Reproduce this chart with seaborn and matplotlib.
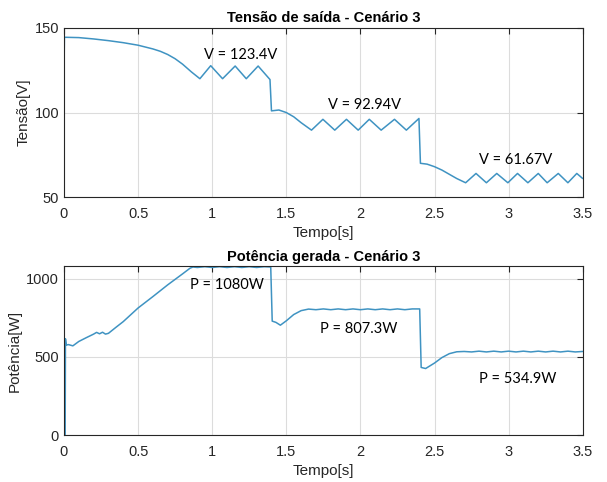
import matplotlib
matplotlib.use("Agg")
import matplotlib.pyplot as plt
import seaborn as sns

# Tensão de saída (V)
t_v = [0.0, 0.003, 0.1, 0.2, 0.3, 0.4, 0.5, 0.6, 0.65, 0.7, 0.75, 0.8,
       0.86, 0.917, 0.99, 1.07, 1.155, 1.23, 1.31, 1.39, 1.40, 1.45, 1.5,
       1.55, 1.6, 1.67, 1.747, 1.827, 1.906, 1.985, 2.06, 2.14, 2.23, 2.31,
       2.395, 2.405, 2.45, 2.5, 2.55, 2.6, 2.65, 2.71, 2.78, 2.85, 2.92,
       2.995, 3.06, 3.13, 3.20, 3.26, 3.335, 3.40, 3.46, 3.5]
v = [123.0, 144.5, 144.3, 143.5, 142.5, 141.3, 139.8, 137.6, 136.2, 134.3,
     131.8, 128.6, 124.0, 120.0, 127.7, 120.0, 127.5, 120.0, 127.5, 119.5,
     101.0, 101.5, 100.0, 97.5, 94.0, 89.6, 96.0, 89.6, 96.0, 89.6, 96.0,
     89.6, 96.0, 89.6, 96.5, 70.0, 69.5, 68.0, 66.0, 63.5, 61.0, 58.5,
     64.0, 58.5, 64.0, 58.5, 64.0, 58.5, 64.0, 58.5, 64.0, 58.5, 64.0,
     61.0]

# Potência gerada (W)
t_p = [0.0, 0.008, 0.010, 0.015, 0.03, 0.06, 0.1, 0.15, 0.2, 0.22, 0.24,
       0.26, 0.28, 0.3, 0.35, 0.4, 0.5, 0.6, 0.7, 0.8, 0.85, 0.87, 0.9,
       0.95, 1.0, 1.05, 1.1, 1.15, 1.2, 1.25, 1.3, 1.35, 1.395, 1.405, 1.43,
       1.46, 1.5, 1.55, 1.6, 1.65, 1.7, 1.75, 1.8, 1.85, 1.9, 1.95, 2.0,
       2.05, 2.1, 2.15, 2.2, 2.25, 2.3, 2.35, 2.40, 2.41, 2.44, 2.5, 2.55,
       2.6, 2.65, 2.7, 2.75, 2.8, 2.85, 2.9, 2.95, 3.0, 3.05, 3.1, 3.15,
       3.2, 3.25, 3.3, 3.35, 3.4, 3.45, 3.5]
p = [0.0, 0.0, 615.0, 575.0, 578.0, 570.0, 598.0, 622.0, 645.0, 656.0,
     647.0, 657.0, 645.0, 650.0, 688.0, 725.0, 812.0, 885.0, 960.0, 1030.0,
     1066.0, 1074.0, 1071.0, 1076.0, 1071.0, 1076.0, 1071.0, 1076.0,
     1071.0, 1076.0, 1071.0, 1076.0, 1074.0, 728.0, 720.0, 702.0, 730.0,
     770.0, 795.0, 805.0, 801.0, 806.0, 801.0, 806.0, 801.0, 806.0, 801.0,
     806.0, 801.0, 806.0, 801.0, 806.0, 801.0, 806.0, 806.0, 432.0, 425.0,
     460.0, 495.0, 520.0, 532.0, 534.0, 531.0, 536.0, 531.0, 536.0, 531.0,
     536.0, 531.0, 536.0, 531.0, 536.0, 531.0, 536.0, 531.0, 536.0, 531.0,
     534.0]

v_labels = ["V = 123.4V", "V = 92.94V", "V = 61.67V"]
v_label_pos = [(1.19, 134.0), (2.03, 104.4), (3.05, 72.0)]
p_labels = ["P = 1080W", "P = 807.3W", "P = 534.9W"]
p_label_pos = [(1.10, 960.0), (1.99, 677.0), (3.06, 360.0)]

sns.set_style("white")
plt.rcParams['font.family'] = ['Liberation Sans', 'DejaVu Sans']

line_color = '#3f93c2'
axis_color = '#262626'

fig = plt.figure(figsize=(6.07, 4.82), dpi=100)
fig.set_facecolor('white')
ax1 = fig.add_axes([0.1054, 0.591, 0.8546, 0.351])
ax2 = fig.add_axes([0.1054, 0.0975, 0.8546, 0.3505])


def style_axes(ax):
    ax.set_xlim(0, 3.5)
    ax.set_xticks([0, 0.5, 1, 1.5, 2, 2.5, 3, 3.5])
    ax.set_xticklabels(['0', '0.5', '1', '1.5', '2', '2.5', '3', '3.5'])
    ax.grid(True, color='#dcdcdc', linewidth=0.8)
    ax.tick_params(direction='in', top=True, right=True, length=4,
                   labelsize=10.5, colors=axis_color, width=0.8)
    ax.tick_params(axis='x', pad=7)
    for s in ax.spines.values():
        s.set_color(axis_color)
        s.set_linewidth(0.8)


# Tensão
sns.lineplot(x=t_v, y=v, ax=ax1, color=line_color, linewidth=1.1,
             estimator=None, sort=False)
style_axes(ax1)
ax1.set_ylim(50, 150)
ax1.set_yticks([50, 100, 150])
ax1.set_title('Tensão de saída - Cenário 3', fontsize=10.5,
              fontweight='bold', color='black', pad=4)
ax1.set_xlabel('Tempo[s]', fontsize=11, color=axis_color, labelpad=4)
ax1.set_ylabel('Tensão[V]', fontsize=11, color=axis_color, labelpad=3)
for txt, (x, y) in zip(v_labels, v_label_pos):
    ax1.text(x, y, txt, ha='center', va='center', fontsize=10.5,
             family=['Lato', 'DejaVu Sans'], color='black')

# Potência
sns.lineplot(x=t_p, y=p, ax=ax2, color=line_color, linewidth=1.1,
             estimator=None, sort=False)
style_axes(ax2)
ax2.set_ylim(0, 1080)
ax2.set_yticks([0, 500, 1000])
ax2.set_title('Potência gerada - Cenário 3', fontsize=10.5,
              fontweight='bold', color='black', pad=4)
ax2.set_xlabel('Tempo[s]', fontsize=11, color=axis_color, labelpad=4)
ax2.set_ylabel('Potência[W]', fontsize=11, color=axis_color, labelpad=3)
for txt, (x, y) in zip(p_labels, p_label_pos):
    ax2.text(x, y, txt, ha='center', va='center', fontsize=10.5,
             family=['Lato', 'DejaVu Sans'], color='black')

fig.savefig('out.png', dpi=100)
